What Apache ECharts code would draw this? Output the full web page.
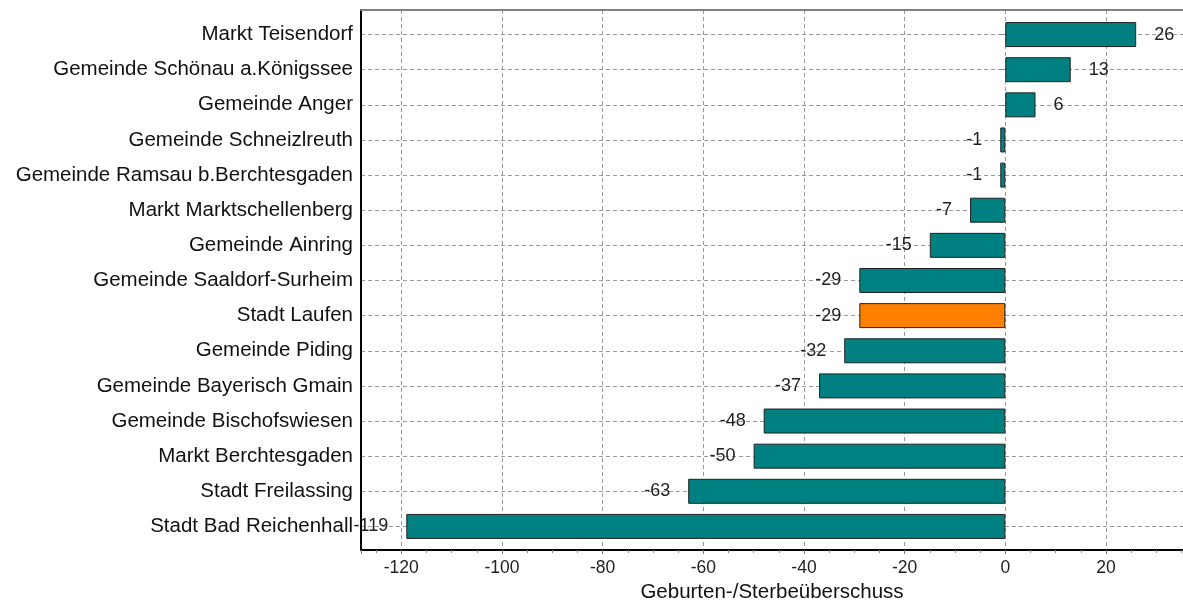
<!DOCTYPE html>
<html>
<head>
<meta charset="utf-8">
<script src="https://cdn.jsdelivr.net/npm/echarts@6/dist/echarts.min.js"></script>
<style>
  html, body { margin: 0; padding: 0; background: #fff; }
  #chart { width: 1183px; height: 601px; }
</style>
</head>
<body>
<div id="chart"></div>
<script>
  // Gemeinden, von oben nach unten
  const categories = [
    'Markt Teisendorf',
    'Gemeinde Schönau a.Königssee',
    'Gemeinde Anger',
    'Gemeinde Schneizlreuth',
    'Gemeinde Ramsau b.Berchtesgaden',
    'Markt Marktschellenberg',
    'Gemeinde Ainring',
    'Gemeinde Saaldorf-Surheim',
    'Stadt Laufen',
    'Gemeinde Piding',
    'Gemeinde Bayerisch Gmain',
    'Gemeinde Bischofswiesen',
    'Markt Berchtesgaden',
    'Stadt Freilassing',
    'Stadt Bad Reichenhall'
  ];
  const values = [26, 13, 6, -1, -1, -7, -15, -29, -29, -32, -37, -48, -50, -63, -119];
  const highlighted = ['Stadt Laufen'];
  const xMin = -128;
  const xMax = 35.3;

  const baseColor = '#008080';
  const highlightColor = '#ff8000';
  const font = 'Arial, "Liberation Sans", sans-serif';

  const chart = echarts.init(document.getElementById('chart'));

  let seriesData = values.map((v, i) => {
    return {
      value: v,
      itemStyle: { color: highlighted.includes(categories[i]) ? highlightColor : baseColor },
      label: { position: v < 0 ? 'left' : 'right' }
    };
  });

  let option = {
    animation: false,
    backgroundColor: '#fff',
    grid: [
      // rahmen + x-achse
      { left: 361, right: 0, top: 10, bottom: 51, outerBoundsMode: 'none' },
      // balken
      { left: 361, right: 0, top: 17, bottom: 57, outerBoundsMode: 'none' }
    ],
    xAxis: [
      {
        type: 'value',
        gridIndex: 0,
        position: 'bottom',
        min: xMin,
        max: xMax,
        splitNumber: 8,
        name: 'Geburten-/Sterbeüberschuss',
        nameLocation: 'middle',
        nameGap: 31,
        nameTextStyle: { fontFamily: font, fontSize: 20.5, color: '#111' },
        axisLine: { show: true, onZero: false, lineStyle: { color: '#000', width: 2 } },
        axisTick: { show: true, length: 4, lineStyle: { color: '#777' } },
        minorTick: { show: true, splitNumber: 4, length: 3, lineStyle: { color: '#888' } },
        axisLabel: {
          margin: 9,
          fontFamily: font,
          fontSize: 17.5,
          color: '#222',
          formatter: (val) => (Math.abs(val % 20) < 1e-6 ? String(Math.round(val)) : '')
        },
        splitLine: { show: true, lineStyle: { color: '#999', type: [4, 3], width: 1 } }
      },
      {
        type: 'value',
        gridIndex: 0,
        position: 'top',
        min: xMin,
        max: xMax,
        axisLine: { show: true, onZero: false, lineStyle: { color: '#808080', width: 2 } },
        axisTick: { show: false },
        axisLabel: { show: false },
        splitLine: { show: false }
      },
      {
        type: 'value',
        gridIndex: 1,
        min: xMin,
        max: xMax,
        show: false
      }
    ],
    yAxis: [
      {
        type: 'value',
        gridIndex: 0,
        min: 0,
        max: 1,
        axisLine: { show: true, onZero: false, lineStyle: { color: '#000', width: 2 } },
        axisTick: { show: false },
        axisLabel: { show: false },
        splitLine: { show: false }
      },
      {
        type: 'category',
        gridIndex: 1,
        inverse: true,
        data: categories,
        axisLine: { show: false },
        axisTick: { show: true, alignWithLabel: true, length: 4, lineStyle: { color: '#888' } },
        axisLabel: { margin: 8, fontFamily: font, fontSize: 20.5, color: '#111' },
        splitLine: { show: true, alignWithLabel: true, lineStyle: { color: '#999', type: [4, 3], width: 1 } }
      }
    ],
    series: [
      {
        type: 'bar',
        xAxisIndex: 2,
        yAxisIndex: 1,
        barWidth: 25,
        data: seriesData,
        itemStyle: { borderColor: '#222', borderWidth: 1 },
        label: {
          show: true,
          distance: 18,
          fontFamily: font,
          fontSize: 18,
          color: '#222'
        }
      }
    ]
  };

  chart.setOption(option);
</script>
</body>
</html>
